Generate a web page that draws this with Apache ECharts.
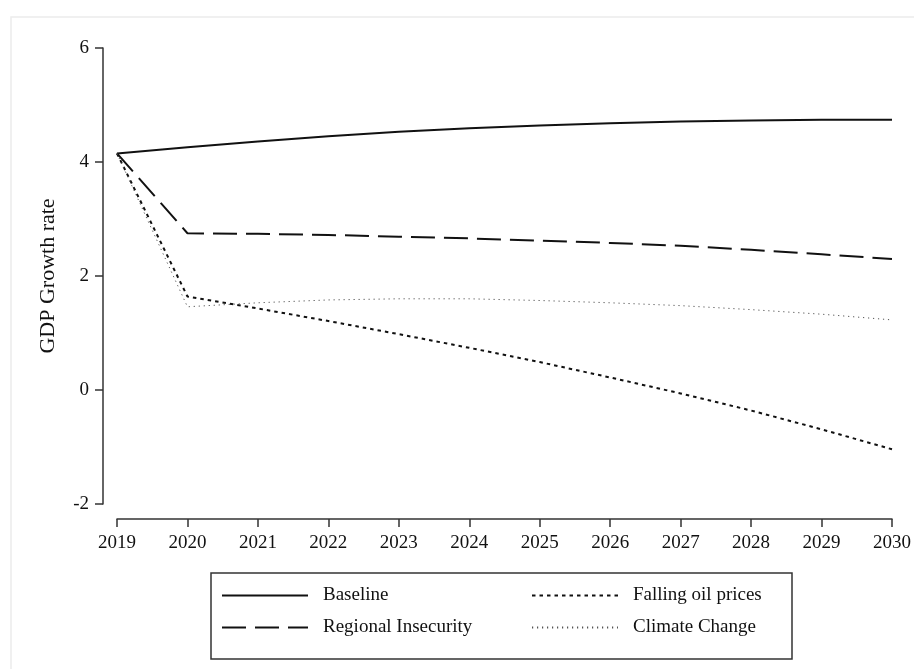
<!DOCTYPE html>
<html>
<head>
<meta charset="utf-8">
<script src="https://cdn.jsdelivr.net/npm/echarts@6/dist/echarts.min.js"></script>
<style>
  html, body { margin: 0; padding: 0; background: #fff; }
  #gdp-chart { width: 914px; height: 669px; }
</style>
</head>
<body>
<div id="gdp-chart"></div>
<script>
const years = [2019, 2020, 2021, 2022, 2023, 2024, 2025, 2026, 2027, 2028, 2029, 2030]
const baseline = [4.15, 4.26, 4.36, 4.45, 4.53, 4.59, 4.64, 4.68, 4.71, 4.73, 4.74, 4.74]
const regionalInsecurity = [4.15, 2.75, 2.74, 2.72, 2.69, 2.66, 2.62, 2.58, 2.53, 2.46, 2.38, 2.30]
const fallingOil = [4.15, 1.64, 1.43, 1.21, 0.98, 0.74, 0.49, 0.22, -0.06, -0.36, -0.69, -1.04]
const climateChange = [4.15, 1.46, 1.53, 1.58, 1.60, 1.60, 1.57, 1.53, 1.48, 1.41, 1.33, 1.23]
const yTicks = [-2, 0, 2, 4, 6]

const font = 'Liberation Serif'
const pair = (vals) => years.map((y, i) => [y, vals[i]])

const chart = echarts.init(document.getElementById('gdp-chart'))

const mkLine = (name, vals, style) => {
  return {
    name: name,
    type: 'line',
    symbol: 'none',
    showSymbol: false,
    silent: true,
    lineStyle: style,
    itemStyle: { color: style.color },
    data: pair(vals)
  }
}

// two stacked columns inside one framed box, like the original figure
const legendBase = {
  orient: 'vertical',
  itemWidth: 86,
  itemHeight: 20,
  itemGap: 13,
  padding: 0,
  selectedMode: false,
  itemStyle: { opacity: 0, borderWidth: 0 },
  textStyle: {
    fontFamily: font,
    fontSize: 19,
    color: '#111',
    padding: [0, 0, 0, 10]
  }
}

const axisColor = '#333'

const option = {
  animation: false,
  backgroundColor: '#fff',
  grid: {
    left: 117,
    right: 22,
    top: 48,
    bottom: 165
  },
  xAxis: {
    type: 'value',
    min: 2019,
    max: 2030,
    interval: 1,
    offset: 15,
    splitLine: { show: false },
    axisLine: { show: true, onZero: false, lineStyle: { color: axisColor, width: 1.5 } },
    axisTick: { show: true, length: 8, lineStyle: { color: axisColor, width: 1.5 } },
    axisLabel: {
      margin: 15,
      fontFamily: font,
      fontSize: 19,
      color: '#111',
      formatter: v => String(v)
    }
  },
  yAxis: {
    type: 'value',
    min: yTicks[0],
    max: yTicks[yTicks.length - 1],
    interval: 2,
    offset: 14,
    name: 'GDP Growth rate',
    nameLocation: 'middle',
    nameGap: 44,
    nameTextStyle: { fontFamily: font, fontSize: 22, color: '#111' },
    splitLine: { show: false },
    axisLine: { show: true, onZero: false, lineStyle: { color: axisColor, width: 1.5 } },
    axisTick: { show: true, length: 8, lineStyle: { color: axisColor, width: 1.5 } },
    axisLabel: {
      margin: 14,
      fontFamily: font,
      fontSize: 19,
      color: '#111'
    }
  },
  legend: [
    Object.assign({}, legendBase, {
      left: 221,
      top: 586,
      data: ['Baseline', 'Regional Insecurity']
    }),
    Object.assign({}, legendBase, {
      left: 531,
      top: 586,
      data: ['Falling oil prices', 'Climate Change']
    })
  ],
  graphic: [
    {
      type: 'rect',
      silent: true,
      shape: { x: 11, y: 17, width: 960, height: 700 },
      style: { fill: 'none', stroke: '#ececec', lineWidth: 1.5 }
    },
    {
      type: 'rect',
      silent: true,
      shape: { x: 211, y: 573, width: 581, height: 86 },
      style: { fill: 'none', stroke: axisColor, lineWidth: 1.5 }
    }
  ],
  series: [
    mkLine('Baseline', baseline, { color: '#111', width: 2, type: 'solid' }),
    mkLine('Regional Insecurity', regionalInsecurity, { color: '#111', width: 2, type: [24, 9] }),
    mkLine('Falling oil prices', fallingOil, { color: '#111', width: 2, type: [3.5, 4] }),
    mkLine('Climate Change', climateChange, { color: '#555', width: 1, type: [1.2, 3.8] })
  ]
}

chart.setOption(option)
window.onresize = () => {
  if (chart) {
    chart.resize()
  }
}
</script>
</body>
</html>
